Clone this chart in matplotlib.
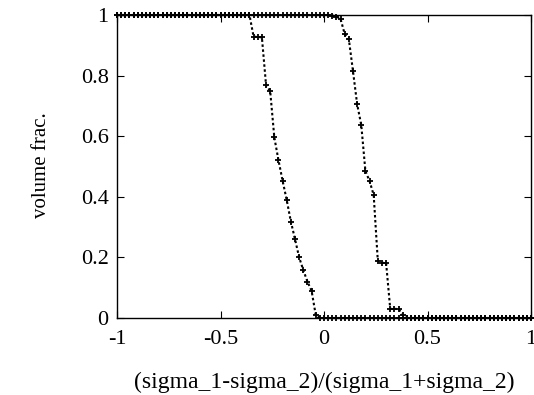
import numpy as np
import matplotlib
matplotlib.use("Agg")
import matplotlib.pyplot as plt

x = np.round(np.arange(-1.0, 1.0001, 0.02), 2)

# left curve: transition points (others are 1 before, 0 after)
left_x = [-0.36, -0.34, -0.32, -0.30, -0.28, -0.26, -0.24, -0.22, -0.20, -0.18,
          -0.16, -0.14, -0.12, -0.10, -0.08, -0.06, -0.04, -0.02]
left_y = [1.0, 0.928, 0.928, 0.926, 0.769, 0.749, 0.596, 0.521, 0.453, 0.389,
          0.318, 0.26, 0.20, 0.158, 0.12, 0.09, 0.01, 0.0]

right_x = [0.02, 0.04, 0.06, 0.08, 0.10, 0.12, 0.14, 0.16, 0.18, 0.20, 0.22, 0.24,
           0.26, 0.28, 0.30, 0.32, 0.34, 0.36, 0.38, 0.40]
right_y = [1.0, 0.998, 0.995, 0.987, 0.937, 0.92, 0.815, 0.706, 0.637, 0.485, 0.452, 0.406,
           0.188, 0.182, 0.182, 0.03, 0.03, 0.03, 0.01, 0.0]

def build(tx, ty):
    y = np.where(x < tx[0], 1.0, 0.0)
    d = dict(zip(tx, ty))
    for i, xv in enumerate(x):
        if xv in d:
            y[i] = d[xv]
    return y

y1 = build(left_x, left_y)
y2 = build(right_x, right_y)

plt.rcParams['font.family'] = ['Liberation Serif']
fig = plt.figure(figsize=(5.34, 3.95), dpi=100)
ax = fig.add_axes([117/534, 1-318/395, (531-117)/534, (318-15)/395])

for yy in (y1, y2):
    ax.plot(x, yy, color='black', linestyle=(0, (1.2, 1.2)), linewidth=1.5,
            marker='+', markersize=4.5, markeredgewidth=1.3, clip_on=False, zorder=3)

ax.set_xlim(-1, 1)
ax.set_ylim(0, 1)
ax.set_xticks([-1, -0.5, 0, 0.5, 1])
ax.set_xticklabels(['-1', '-0.5', '0', '0.5', '1'])
ax.set_yticks([0, 0.2, 0.4, 0.6, 0.8, 1])
ax.set_yticklabels(['0', '0.2', '0.4', '0.6', '0.8', '1'])
ax.tick_params(direction='in', top=True, right=True, length=5, labelsize=16)
ax.tick_params(axis='x', pad=9)
ax.tick_params(axis='y', pad=6)
ax.set_xlabel('(sigma_1-sigma_2)/(sigma_1+sigma_2)', fontsize=17)
ax.set_ylabel('volume frac.', fontsize=15)
ax.xaxis.set_label_coords((324 - 117) / 414, -(372 - 318) / 303)
ax.yaxis.set_label_coords(-(117 - 51) / 414, (318 - 165) / 303)
for s in ax.spines.values():
    s.set_linewidth(1.0)

fig.savefig('out.png', dpi=100)
